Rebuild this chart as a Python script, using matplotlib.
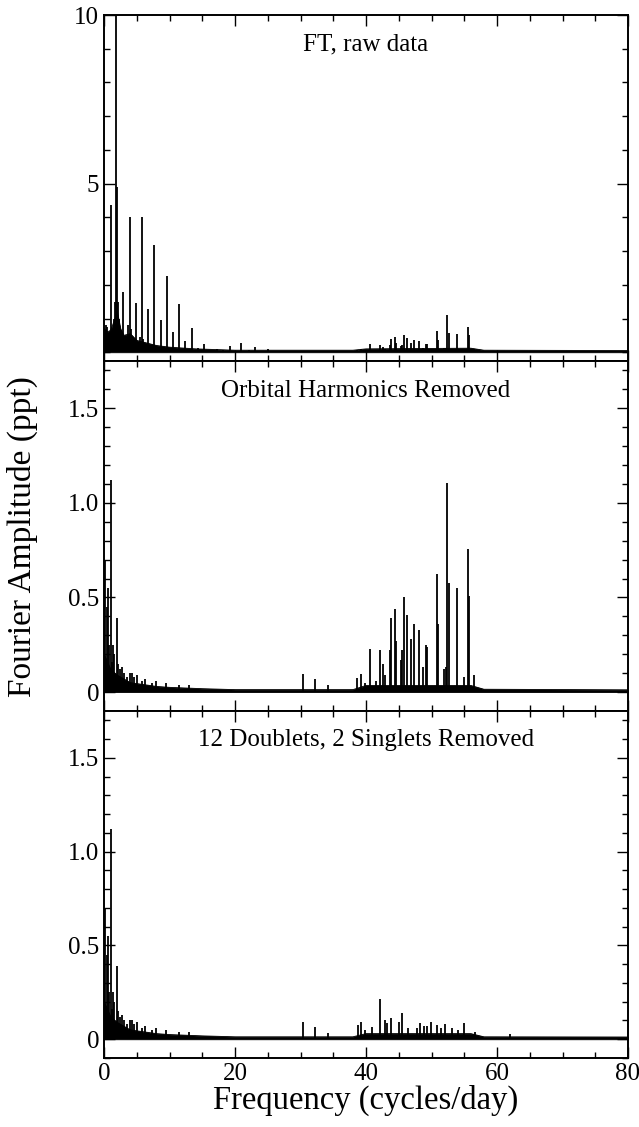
import numpy as np
import matplotlib
matplotlib.use('Agg')
import matplotlib.pyplot as plt
from matplotlib.ticker import MultipleLocator, FixedLocator

plt.rcParams['font.family'] = ['Liberation Serif', 'DejaVu Serif']

# ---- data ----
# top panel: orbital harmonics (cycles/day, ppt)
orb_freq = [1.02, 1.90, 1.96, 2.95, 3.92, 4.84, 5.75, 6.72, 7.68, 8.65, 9.62,
            10.53, 11.45, 12.40, 13.39, 14.35, 15.27, 16.3, 17.25, 18.2, 19.2,
            20.9, 22.1, 23.1, 24.1, 25.0]
orb_amp = [4.37, 12.0, 4.9, 1.79, 4.02, 1.47, 4.00, 1.27, 3.18, 0.95, 2.26,
           0.60, 1.42, 0.33, 0.72, 0.12, 0.24, 0.08, 0.10, 0.06, 0.18,
           0.27, 0.07, 0.15, 0.05, 0.10]
# window sidelobes round the big peak
side_freq = [0.3, 0.5, 1.6, 1.75, 2.1, 2.25, 3.7, 4.1, 5.5, 6.0]
side_amp = [0.8, 0.75, 1.0, 1.5, 1.5, 1.0, 0.8, 0.7, 0.45, 0.4]

# pulsation peaks, 38-57 c/d, before prewhitening
puls_freq = [38.68, 39.19, 39.85, 40.61, 41.5, 42.14, 42.54, 42.84, 43.70, 43.87,
             44.37, 44.58, 45.30, 45.50, 45.75, 46.31, 46.87, 47.38, 48.04,
             48.75, 49.16, 49.31, 50.79, 50.99, 51.90, 52.20, 52.42, 52.72,
             53.84, 54.96, 55.62, 55.78, 56.49]
puls_amp = [0.076, 0.094, 0.05, 0.23, 0.06, 0.22, 0.15, 0.09, 0.22, 0.39,
            0.44, 0.27, 0.17, 0.22, 0.50, 0.41, 0.28, 0.36, 0.33,
            0.13, 0.25, 0.24, 0.624, 0.36, 0.12, 0.13, 1.105, 0.576,
            0.55, 0.08, 0.757, 0.51, 0.09]

# residual peaks after 12 doublets + 2 singlets removed
resid_freq = [38.73, 39.19, 39.85, 40.90, 42.19, 42.85, 43.20, 43.77, 44.98,
              45.45, 46.4, 47.73, 48.24, 48.8, 49.26, 49.97, 50.79, 51.5,
              52.10, 53.2, 54.0, 54.96, 56.59, 62.0]
resid_amp = [0.074, 0.092, 0.05, 0.065, 0.216, 0.10, 0.085, 0.113, 0.092,
             0.14, 0.06, 0.06, 0.085, 0.07, 0.07, 0.092, 0.074, 0.06,
             0.083, 0.06, 0.05, 0.085, 0.04, 0.03]

# low-frequency peaks left after orbital harmonics removed
low_freq = [0.15, 0.40, 0.61, 0.83, 1.07, 1.20, 1.40, 1.60, 1.98, 2.2, 2.5,
            2.7, 3.05, 3.5, 3.9, 4.2, 4.6, 5.0, 5.8, 6.3, 7.3, 8.0, 9.5,
            11.5, 13.0, 30.33, 32.26, 34.15]
low_amp = [0.70, 0.45, 0.55, 0.25, 1.12, 0.16, 0.25, 0.20, 0.39, 0.15, 0.12,
           0.13, 0.10, 0.08, 0.10, 0.10, 0.08, 0.09, 0.06, 0.07, 0.05, 0.06,
           0.05, 0.04, 0.04, 0.094, 0.067, 0.035]

# noise floor (frequency, level)
top_nf = [0, 0.5, 1.0, 1.5, 2.0, 2.5, 3.0, 4.0, 5.0, 6.0, 8.0, 10, 14, 20,
          38, 40, 56, 58, 80]
top_nl = [0.70, 0.60, 0.65, 0.90, 1.20, 0.70, 0.50, 0.55, 0.35, 0.30, 0.20,
          0.15, 0.10, 0.06, 0.06, 0.10, 0.12, 0.06, 0.05]
mid_nf = [0, 0.5, 1, 2, 3, 4, 6, 8, 10, 15, 20, 38, 40, 56, 58, 80]
mid_nl = [0.20, 0.16, 0.12, 0.09, 0.07, 0.05, 0.04, 0.03, 0.025, 0.018, 0.013,
          0.013, 0.035, 0.035, 0.015, 0.012]
bot_nf = [0, 0.5, 1, 2, 3, 4, 6, 8, 10, 15, 20, 38, 40, 56, 58, 80]
bot_nl = [0.20, 0.16, 0.12, 0.09, 0.07, 0.05, 0.04, 0.03, 0.025, 0.018, 0.013,
          0.013, 0.03, 0.03, 0.013, 0.012]

titles = ["FT, raw data", "Orbital Harmonics Removed",
          "12 Doublets, 2 Singlets Removed"]

fig = plt.figure(figsize=(6.39, 11.27), dpi=100)
left, width = 104 / 639, 524 / 639
ax_top = fig.add_axes([left, 766 / 1127, width, 346 / 1127])
ax_mid = fig.add_axes([left, 416 / 1127, width, 350 / 1127])
ax_bot = fig.add_axes([left, 69 / 1127, width, 347 / 1127])


def draw_panel(ax, nf, nl, peak_sets, title):
    ax.fill_between(nf, 0, nl, color='black', lw=0.6)
    ax.plot(nf, nl, color='black', lw=0.6)
    for f, a in peak_sets:
        ax.vlines(f, 0, a, color='black', lw=1.3)
    ax.set_xlim(0, 80)
    ax.xaxis.set_major_locator(MultipleLocator(20))
    ax.xaxis.set_minor_locator(MultipleLocator(5))
    ax.tick_params(which='both', direction='in', top=True, right=True,
                   labelsize=18, width=1.0)
    ax.tick_params(which='major', length=8)
    ax.tick_params(which='minor', length=4)
    for s in ax.spines.values():
        s.set_linewidth(1.4)
    ax.text(0.5, 0.947, title, transform=ax.transAxes, ha='center', va='top',
            fontsize=18)


draw_panel(ax_top, top_nf, top_nl,
           [(orb_freq, orb_amp), (side_freq, side_amp), (puls_freq, puls_amp)],
           titles[0])
ax_top.set_ylim(-0.26, 10)
ax_top.yaxis.set_major_locator(FixedLocator([5, 10]))
ax_top.yaxis.set_minor_locator(MultipleLocator(1))
ax_top.tick_params(labelbottom=False)

draw_panel(ax_mid, mid_nf, mid_nl,
           [(low_freq, low_amp), (puls_freq, puls_amp)], titles[1])
draw_panel(ax_bot, bot_nf, bot_nl,
           [(low_freq, low_amp), (resid_freq, resid_amp)], titles[2])
for ax in (ax_mid, ax_bot):
    ax.set_ylim(-0.1, 1.75)
    ax.set_yticks([0, 0.5, 1.0, 1.5])
    ax.set_yticklabels(["0", "0.5", "1.0", "1.5"])
    ax.yaxis.set_minor_locator(MultipleLocator(0.1))
ax_mid.tick_params(labelbottom=False)

ax_bot.set_xlabel("Frequency (cycles/day)", fontsize=23.5, labelpad=0)
fig.text(0.035, (1127 - 537) / 1127, "Fourier Amplitude (ppt)", rotation=90,
         ha='center', va='center', fontsize=24)

fig.savefig("out.png", dpi=100)
plt.close()
